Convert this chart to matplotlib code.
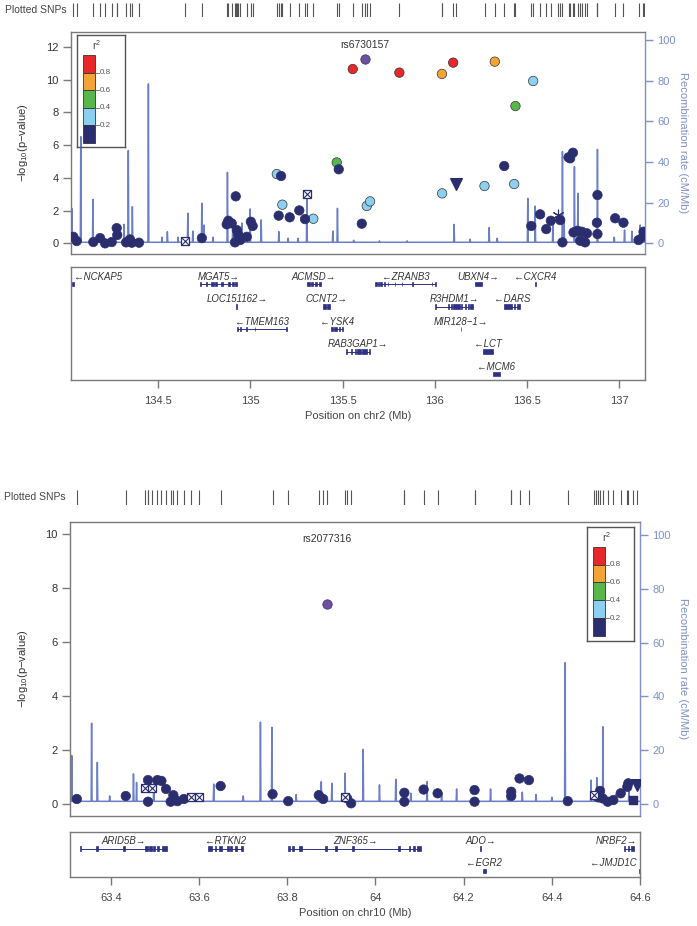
import matplotlib
matplotlib.use('Agg')
import matplotlib.pyplot as plt

plt.rcParams['font.family'] = ['Liberation Sans', 'DejaVu Sans']
plt.rcParams['mathtext.default'] = 'regular'
plt.rcParams['axes.unicode_minus'] = True

W, H = 697, 926

# ---- colours -------------------------------------------------------------
LD_COLORS = ['#2b2e6e', '#8ccff0', '#58b74b', '#f4a436', '#e8272b']
INDEX_COLOR = '#6c4f9f'
NAVY = '#2b2e6e'
RECOMB_COLOR = '#6b7fc7'
AXIS_BLUE = '#7f90cd'
GENE_COLOR = '#2e3287'
FRAME = '#7a7a7a'
TEXT = '#333333'

# ==========================================================================
# chr2 panel data
# ==========================================================================
chr2_index_name = 'rs6730157'
chr2_index_pos = 135.622
chr2_index_logp = 11.25

chr2_pos = [135.555, 135.808, 136.100,
            136.039, 136.326,
            135.468, 136.438,
            135.143, 135.173, 135.631, 135.649, 135.341, 136.534, 136.040, 136.270, 136.431,
            135.479, 135.166, 135.153, 135.213, 135.265, 135.296, 135.604, 134.920,
            134.880, 134.898, 134.871, 134.926, 134.934, 134.916, 134.944, 134.980, 135.002, 135.012,
            134.736,
            134.039, 134.057, 134.147, 134.184, 134.211, 134.247, 134.274, 134.277, 134.325, 134.346,
            134.356, 134.395,
            136.377, 136.524, 136.572, 136.605, 136.630, 136.681, 136.693, 136.726, 136.735, 136.750,
            136.753, 136.775, 136.789, 136.798, 136.816, 136.826, 136.883, 136.880, 136.883, 136.979,
            137.024, 137.106, 137.130, 137.133]
chr2_logp = [10.64, 10.42, 11.03,
             10.34, 11.09,
             4.94, 8.38,
             4.23, 2.36, 2.28, 2.56, 1.50, 9.91, 3.05, 3.50, 3.62,
             4.52, 4.11, 1.69, 1.59, 2.01, 1.48, 1.20, 2.87,
             1.38, 1.22, 1.16, 0.81, 0.51, 0.06, 0.20, 0.40, 1.32, 1.06,
             0.32,
             0.40, 0.14, 0.08, 0.32, 0.00, 0.08, 0.93, 0.51, 0.06, 0.24,
             0.04, 0.04,
             4.72, 1.06, 1.77, 0.87, 1.38, 1.42, 0.06, 5.25, 5.19, 5.53,
             0.67, 0.77, 0.16, 0.71, 0.06, 0.61, 2.95, 1.26, 0.57, 1.53,
             1.26, 0.20, 0.40, 0.71]
chr2_r2 = [0.9, 0.9, 0.9,
           0.7, 0.7,
           0.5, 0.5,
           0.3, 0.3, 0.3, 0.3, 0.3, 0.3, 0.3, 0.3, 0.3] + [0.1] * 55

chr2_box_pos = [134.645, 135.309]
chr2_box_logp = [0.14, 2.99]
chr2_tri_pos = [136.115]
chr2_tri_logp = [3.60]
chr2_star_pos = [136.671]
chr2_star_logp = [1.73]
chr2_sq_pos = []
chr2_sq_logp = []

chr2_rec_pos = [134.030, 134.079, 134.145, 134.314, 134.337, 134.359, 134.446, 134.520, 134.549,
                134.607, 134.660, 134.687, 134.736, 134.748, 134.797, 134.875, 134.904, 134.953,
                134.998, 135.058, 135.154, 135.204, 135.258, 135.306, 135.447, 135.472, 135.560,
                135.700, 135.850, 136.105, 136.192, 136.295, 136.339, 136.505, 136.545, 136.641,
                136.693, 136.702, 136.758, 136.777, 136.883, 136.974, 137.030, 137.070, 137.115]
chr2_rec_rate = [17.2, 52.4, 21.6, 9.3, 45.6, 18.0, 78.4, 3.0, 5.7,
                 3.0, 14.8, 6.0, 19.7, 9.0, 3.0, 34.9, 10.0, 10.0,
                 16.9, 11.5, 5.7, 2.5, 2.5, 23.5, 6.0, 17.2, 1.5,
                 1.2, 1.2, 9.3, 2.0, 7.7, 2.5, 22.1, 18.3, 9.0,
                 45.1, 12.0, 37.7, 24.6, 46.2, 3.0, 6.5, 6.0, 9.0]
chr2_rec_base = 0.5

chr2_gene_names = ['NCKAP5', 'MGAT5', 'ACMSD', 'ZRANB3', 'UBXN4', 'CXCR4',
                   'LOC151162', 'CCNT2', 'R3HDM1', 'DARS',
                   'TMEM163', 'YSK4', 'MIR128\u22121',
                   'RAB3GAP1', 'LCT', 'MCM6']
chr2_gene_start = [133.900, 134.724, 135.309, 135.676, 136.216, 136.543,
                   134.924, 135.392, 136.002, 136.377,
                   134.927, 135.436, 136.141,
                   135.521, 136.264, 136.315]
chr2_gene_end = [134.043, 134.926, 135.382, 136.007, 136.259, 136.547,
                 134.928, 135.432, 136.207, 136.464,
                 135.198, 135.504, 136.144,
                 135.649, 136.315, 136.355]
chr2_gene_strand = ['-', '+', '+', '-', '+', '-',
                    '+', '+', '+', '-',
                    '-', '-', '+',
                    '+', '-', '-']
chr2_gene_row = [0, 0, 0, 0, 0, 0, 1, 1, 1, 1, 2, 2, 2, 3, 3, 4]
chr2_gene_exons = [
    [(134.030, 134.043)],
    [(134.724, 134.729), (134.760, 134.765), (134.788, 134.800), (134.806, 134.818),
     (134.842, 134.853), (134.878, 134.890), (134.898, 134.910), (134.918, 134.926)],
    [(135.309, 135.322), (135.330, 135.340), (135.348, 135.360), (135.372, 135.382)],
    [(135.676, 135.684), (135.690, 135.696), (135.705, 135.712), (135.724, 135.730),
     (135.744, 135.748), (135.782, 135.786), (135.820, 135.824), (135.876, 135.880),
     (135.983, 135.987), (136.003, 136.007)],
    [(136.216, 136.259)],
    [(136.543, 136.547)],
    [(134.924, 134.928)],
    [(135.392, 135.410), (135.414, 135.432)],
    [(136.002, 136.006), (136.072, 136.080), (136.086, 136.094), (136.100, 136.135),
     (136.140, 136.150), (136.163, 136.167), (136.178, 136.186), (136.192, 136.207)],
    [(136.377, 136.418), (136.430, 136.438), (136.448, 136.464)],
    [(134.927, 134.933), (134.942, 134.946), (134.978, 134.982), (135.023, 135.027),
     (135.193, 135.198)],
    [(135.436, 135.446), (135.452, 135.470), (135.478, 135.487), (135.495, 135.504)],
    [(136.141, 136.144)],
    [(135.521, 135.526), (135.548, 135.552), (135.566, 135.574), (135.580, 135.600),
     (135.606, 135.631), (135.645, 135.649)],
    [(136.264, 136.315)],
    [(136.315, 136.355)],
]
chr2_xticks = [134.5, 135, 135.5, 136, 136.5, 137]

# ==========================================================================
# chr10 panel data
# ==========================================================================
chr10_index_name = 'rs2077316'
chr10_index_pos = 63.889
chr10_index_logp = 7.43

chr10_pos = [63.3225, 63.4335, 63.4840, 63.4840, 63.5053, 63.5143, 63.5248, 63.5415, 63.5354,
             63.5506, 63.5655, 63.6487, 63.7665, 63.8020, 63.8714, 63.8813, 63.9357, 63.9447,
             64.0655, 64.0655, 64.1092, 64.1409, 64.2247, 64.2247, 64.3079, 64.3079, 64.3267,
             64.3480, 64.4362, 64.5094, 64.5003, 64.5056, 64.5155, 64.5268, 64.5395, 64.5563,
             64.5712, 64.5735]
chr10_logp = [0.19, 0.30, 0.89, 0.09, 0.89, 0.86, 0.56, 0.33, 0.09,
              0.11, 0.19, 0.67, 0.37, 0.11, 0.33, 0.19, 0.21, 0.03,
              0.42, 0.09, 0.54, 0.40, 0.52, 0.09, 0.46, 0.30, 0.95,
              0.89, 0.11, 0.49, 0.30, 0.25, 0.21, 0.09, 0.15, 0.40,
              0.64, 0.77]
chr10_r2 = [0.1] * 38

chr10_box_pos = [63.4765, 63.4940, 63.5807, 63.5995, 63.9318, 64.4958]
chr10_box_logp = [0.58, 0.58, 0.27, 0.27, 0.27, 0.33]
chr10_tri_pos = [64.5925]
chr10_tri_logp = [0.70]
chr10_star_pos = []
chr10_star_logp = []
chr10_sq_pos = [64.5835]
chr10_sq_logp = [0.15]

chr10_rec_pos = [63.311, 63.356, 63.369, 63.397, 63.451, 63.458, 63.497, 63.560, 63.633,
                 63.700, 63.739, 63.765, 63.820, 63.869, 63.877, 63.901, 63.931, 63.972,
                 64.009, 64.046, 64.080, 64.117, 64.150, 64.184, 64.261, 64.300, 64.333,
                 64.364, 64.400, 64.430, 64.489, 64.502, 64.516, 64.545, 64.575]
chr10_rec_rate = [18.0, 30.0, 15.5, 3.0, 11.2, 8.0, 9.0, 3.0, 7.4,
                  3.0, 30.4, 28.5, 3.5, 5.0, 8.3, 7.7, 11.4, 20.3,
                  7.1, 9.2, 4.0, 8.3, 4.0, 5.6, 5.6, 3.5, 4.4,
                  3.5, 2.5, 52.5, 8.9, 9.8, 28.7, 3.5, 6.5]
chr10_rec_base = 1.0

chr10_gene_names = ['ARID5B', 'RTKN2', 'ZNF365', 'ADO', 'NRBF2', 'EGR2', 'JMJD1C']
chr10_gene_start = [63.331, 63.621, 63.804, 64.236, 64.563, 64.244, 64.598]
chr10_gene_end = [63.526, 63.699, 64.103, 64.240, 64.586, 64.250, 64.750]
chr10_gene_strand = ['+', '-', '+', '+', '+', '-', '-']
chr10_gene_row = [0, 0, 0, 0, 0, 1, 1]
chr10_gene_exons = [
    [(63.329, 63.333), (63.366, 63.370), (63.427, 63.431), (63.478, 63.484), (63.487, 63.493),
     (63.496, 63.500), (63.505, 63.509), (63.515, 63.527)],
    [(63.620, 63.630), (63.635, 63.639), (63.645, 63.651), (63.664, 63.668), (63.670, 63.675),
     (63.681, 63.685), (63.695, 63.699)],
    [(63.802, 63.806), (63.811, 63.815), (63.827, 63.834), (63.885, 63.889), (63.908, 63.912),
     (63.947, 63.951), (64.052, 64.056), (64.075, 64.079), (64.086, 64.090), (64.094, 64.104)],
    [(64.236, 64.240)],
    [(64.563, 64.567), (64.572, 64.576), (64.580, 64.586)],
    [(64.244, 64.250)],
    [(64.598, 64.602)],
]
chr10_xticks = [63.4, 63.6, 63.8, 64.0, 64.2, 64.4, 64.6]

# ==========================================================================
# panel layout (pixel boxes: left, top, right, bottom)
# ==========================================================================
panels = [
    dict(chrom='chr2', index_name=chr2_index_name, index_pos=chr2_index_pos,
         index_logp=chr2_index_logp, pos=chr2_pos, logp=chr2_logp, r2=chr2_r2,
         box=(chr2_box_pos, chr2_box_logp), tri=(chr2_tri_pos, chr2_tri_logp),
         star=(chr2_star_pos, chr2_star_logp), sq=(chr2_sq_pos, chr2_sq_logp),
         rec=(chr2_rec_pos, chr2_rec_rate, chr2_rec_base),
         genes=(chr2_gene_names, chr2_gene_start, chr2_gene_end, chr2_gene_strand,
                chr2_gene_row, chr2_gene_exons),
         xticks=chr2_xticks, xlim=(134.026, 137.141),
         ylim=(-0.65, 12.9), rylim=(-5.26, 103.9), yticks=range(0, 13, 2),
         rug_box=(71, 3, 645, 17), main_box=(71, 32, 645, 254),
         gene_box=(71, 267.3, 645, 380), gene_rows=5.01,
         legend_box=(76.7, 35, 125, 147.3)),
    dict(chrom='chr10', index_name=chr10_index_name, index_pos=chr10_index_pos,
         index_logp=chr10_index_logp, pos=chr10_pos, logp=chr10_logp, r2=chr10_r2,
         box=(chr10_box_pos, chr10_box_logp), tri=(chr10_tri_pos, chr10_tri_logp),
         star=(chr10_star_pos, chr10_star_logp), sq=(chr10_sq_pos, chr10_sq_logp),
         rec=(chr10_rec_pos, chr10_rec_rate, chr10_rec_base),
         genes=(chr10_gene_names, chr10_gene_start, chr10_gene_end, chr10_gene_strand,
                chr10_gene_row, chr10_gene_exons),
         xticks=chr10_xticks, xlim=(63.307, 64.600),
         ylim=(-0.44, 10.46), rylim=(-4.46, 104.9), yticks=range(0, 11, 2),
         rug_box=(70, 490, 640, 505), main_box=(70, 521.7, 640, 816),
         gene_box=(70, 831.7, 640, 877.3), gene_rows=2.03,
         legend_box=(586.7, 526.7, 634.3, 640.7)),
]


def px_axes(fig, box):
    left, top, right, bottom = box
    return fig.add_axes([left / W, 1 - bottom / H, (right - left) / W, (bottom - top) / H])


def ld_color(r2):
    return LD_COLORS[min(int(r2 / 0.2), 4)]


def style_frame(ax, color=FRAME):
    for sp in ax.spines.values():
        sp.set_color(color)
        sp.set_linewidth(1.0)


fig = plt.figure(figsize=(W / 100, H / 100), dpi=100)
gene_texts = []

for p in panels:
    # ---------------- rug of plotted SNPs ----------------
    rug = px_axes(fig, p['rug_box'])
    all_pos = list(p['pos']) + [p['index_pos']] + list(p['box'][0]) + list(p['tri'][0]) \
        + list(p['star'][0]) + list(p['sq'][0])
    rug.vlines(all_pos, 0, 1, color='#555555', lw=0.8)
    rug.set_xlim(*p['xlim'])
    rug.set_ylim(0, 1)
    rug.axis('off')
    l, t, r, b = p['rug_box']
    fig.text((l - 4) / W, 1 - (t + b) / 2 / H, 'Plotted SNPs', ha='right', va='center',
             fontsize=7.5, color='#444444')

    # ---------------- association + recombination ----------------
    ax = px_axes(fig, p['main_box'])
    axr = ax.twinx()
    ax.set_zorder(axr.get_zorder() + 1)
    ax.patch.set_visible(False)

    rpos, rrate, rbase = p['rec']
    xs, ys = [p['xlim'][0]], [rbase]
    hw = 0.0025 * (p['xlim'][1] - p['xlim'][0]) / 3.1
    for xp, yr in zip(rpos, rrate):
        xs += [xp - hw, xp, xp + hw]
        ys += [rbase, yr, rbase]
    xs.append(p['xlim'][1])
    ys.append(rbase)
    axr.plot(xs, ys, color=RECOMB_COLOR, lw=1.1, zorder=1)
    axr.set_ylim(*p['rylim'])
    axr.set_yticks(range(0, 101, 20))
    axr.tick_params(axis='y', colors=AXIS_BLUE, labelsize=8, length=5.5, width=1.0,
                    labelcolor=AXIS_BLUE)
    for side in ['left', 'top', 'bottom']:
        axr.spines[side].set_visible(False)
    axr.spines['right'].set_color(AXIS_BLUE)
    axr.spines['right'].set_linewidth(1.0)
    axr.set_ylabel('Recombination rate (cM/Mb)', rotation=270, color=AXIS_BLUE, fontsize=8)
    ml, mt, mr, mb = p['main_box']
    axr.yaxis.set_label_coords((688 - ml) / (mr - ml), 0.5)

    # points
    ax.scatter(p['pos'], p['logp'], s=46, c=[ld_color(v) for v in p['r2']],
               edgecolors=['#333333' if v >= 0.2 else NAVY for v in p['r2']],
               linewidths=0.5, zorder=3)
    ax.scatter([p['index_pos']], [p['index_logp']], s=46, c=INDEX_COLOR,
               edgecolors='#3d2b66', linewidths=0.5, zorder=4)
    bx, by = p['box']
    ax.scatter(bx, by, s=40, marker='s', facecolors='white', edgecolors=NAVY,
               linewidths=0.9, zorder=3)
    ax.scatter(bx, by, s=26, marker='x', color=NAVY, linewidths=0.8, zorder=3)
    tx, ty = p['tri']
    ax.scatter(tx, ty, s=70, marker='v', color=NAVY, zorder=3)
    sx, sy = p['star']
    ax.scatter(sx, sy, s=60, marker=(6, 2, 0), color=NAVY, linewidths=0.8, zorder=3)
    qx, qy = p['sq']
    ax.scatter(qx, qy, s=30, marker='s', color=NAVY, zorder=3)

    ax.annotate(p['index_name'], xy=(p['index_pos'], 0.94),
                xycoords=('data', 'axes fraction'), ha='center', va='center',
                fontsize=7.5, color=TEXT)

    ax.set_xlim(*p['xlim'])
    ax.set_ylim(*p['ylim'])
    ax.set_xticks([])
    ax.set_yticks(list(p['yticks']))
    ax.tick_params(axis='y', labelsize=8, length=5.5, width=1.0, colors=FRAME,
                   labelcolor=TEXT)
    style_frame(ax)
    ax.spines['right'].set_visible(False)
    ax.set_ylabel('\u2212log$_{10}$(p\u2212value)', fontsize=8, color=TEXT)
    ax.yaxis.set_label_coords((30 - ml) / (mr - ml), 0.5)

    # ---------------- r^2 legend ----------------
    lg = px_axes(fig, p['legend_box'])
    ll, lt, lr, lb = p['legend_box']
    lw_, lh_ = lr - ll, lb - lt
    lg.set_xlim(0, lw_)
    lg.set_ylim(lh_, 0)
    lg.set_xticks([])
    lg.set_yticks([])
    lg.patch.set_alpha(0)
    style_frame(lg, '#555555')
    cb_x0, cb_x1, cb_y0, cb_y1 = 6.6, 18.3, 20.0, lh_ - 4.6
    step = (cb_y1 - cb_y0) / 5
    for i, col in enumerate(LD_COLORS[::-1]):
        lg.add_patch(plt.Rectangle((cb_x0, cb_y0 + i * step), cb_x1 - cb_x0, step,
                                   facecolor=col, edgecolor='#333333', lw=0.6))
    for i, lab in enumerate(['0.8', '0.6', '0.4', '0.2']):
        yy = cb_y0 + (i + 1) * step
        lg.plot([cb_x1, cb_x1 + 3.5], [yy, yy], color='#666666', lw=0.6)
        lg.text(cb_x1 + 4.5, yy, lab, fontsize=5.8, color='#555555', va='center', ha='left')
    lg.text((cb_x0 + cb_x1) / 2 + 7, 10.5, 'r$^2$', fontsize=7.5, color='#444444',
            ha='center', va='center')

    # ---------------- gene track ----------------
    ga = px_axes(fig, p['gene_box'])
    names, starts, ends, strands, rows, exons = p['genes']
    for name, g0, g1, st, row, ex in zip(names, starts, ends, strands, rows, exons):
        yb = row + 0.75
        ga.plot([g0, g1], [yb, yb], color=GENE_COLOR, lw=0.7, solid_capstyle='butt')
        ga.broken_barh([(e0, e1 - e0) for e0, e1 in ex], (yb - 0.1, 0.2),
                       facecolors=GENE_COLOR, edgecolors=GENE_COLOR, linewidth=0.5)
        label = f'\u2190{name}' if st == '-' else f'{name}\u2192'
        txt = ga.text((g0 + g1) / 2, row + 0.41, label, ha='center', va='center',
                      fontsize=6.9, style='italic', color=TEXT)
        gene_texts.append((ga, txt))
    ga.set_xlim(*p['xlim'])
    ga.set_ylim(p['gene_rows'], 0)
    ga.set_yticks([])
    ga.set_xticks(p['xticks'])
    ga.set_xticklabels([f'{v:g}' for v in p['xticks']])
    ga.tick_params(axis='x', labelsize=8, length=5.5, width=1.0, colors=FRAME,
                   labelcolor='#444444', pad=6)
    style_frame(ga)
    ga.set_xlabel(f"Position on {p['chrom']} (Mb)", fontsize=8, color='#444444')
    gl, gt, gr, gb = p['gene_box']
    ga.xaxis.set_label_coords(0.5, -31.0 / (gb - gt))

# keep gene labels inside their track
fig.canvas.draw()
renderer = fig.canvas.get_renderer()
for ga, txt in gene_texts:
    bb = txt.get_window_extent(renderer)
    abb = ga.get_window_extent(renderer)
    x0, x1 = ga.get_xlim()
    per_px = (x1 - x0) / abb.width
    pad = 3
    if bb.x0 < abb.x0 + pad:
        txt.set_x(txt.get_position()[0] + (abb.x0 + pad - bb.x0) * per_px)
    elif bb.x1 > abb.x1 - pad:
        txt.set_x(txt.get_position()[0] - (bb.x1 - abb.x1 + pad) * per_px)

fig.savefig('out.png', dpi=100)
plt.close(fig)
